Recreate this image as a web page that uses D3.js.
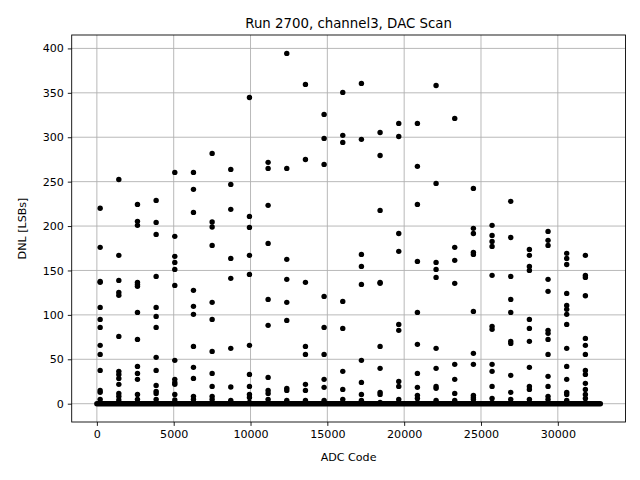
<!DOCTYPE html>
<html>
<head>
<meta charset="utf-8">
<script src="https://cdn.jsdelivr.net/npm/d3@7"></script>
<style>
  html, body { margin: 0; padding: 0; background: #fff; }
  svg { display: block; font-family: "DejaVu Sans", sans-serif; }
</style>
</head>
<body>
<svg id="chart" width="640" height="480"></svg>
<script>
// ---- data ----
const titleText = "Run 2700, channel3, DAC Scan";
const xLabel = "ADC Code";
const yLabel = "DNL [LSBs]";
const xTicks = [0, 5000, 10000, 15000, 20000, 25000, 30000];
const yTicks = [0, 50, 100, 150, 200, 250, 300, 350, 400];
// ADC codes where the scan shows DNL spikes
const adcCodes = [214, 1429, 2643, 3858, 5072, 6287, 7502, 8716, 9931, 11145, 12360, 13575, 14789,
  16004, 17218, 18433, 19648, 20862, 22077, 23291, 24506, 25721, 26935, 28150, 29364, 30579, 31794];
// DNL values at each of those codes
const dnlValues = [
  [220, 176, 137.7, 136.6, 108.4, 94.9, 85.9, 65.7, 55.5, 37.5, 15, 12.8, 4.9, 1.5],
  [252.5, 167, 138.8, 125.3, 122, 75.8, 36.4, 33, 28.5, 21.8, 11.6, 8.3, 4.1, 1.5],
  [224.4, 205.3, 200.8, 136.6, 134.3, 132.1, 102.8, 72.4, 42, 34.1, 27.4, 10.5, 4.9, 1.5],
  [228.9, 204.1, 190.6, 143.3, 108.4, 98.3, 85.9, 52.2, 37.5, 20.6, 13.9, 11.6, 4.9, 1.5],
  [260.4, 188.4, 165.9, 159.1, 151.2, 133.2, 48.8, 27.4, 24, 21.8, 10.5, 4.1, 1.5],
  [260.4, 241.3, 215.4, 127.6, 109.6, 100.6, 64.5, 40.9, 28.5, 8.3, 4.9, 1.5],
  [281.8, 204.5, 198.9, 178.2, 114.1, 94.9, 58.9, 34.1, 19.5, 8.3, 4.9, 1.5],
  [263.8, 246.9, 218.8, 163.6, 141.1, 62.3, 18.8, 3.8, 1.5],
  [344.8, 210.9, 198.5, 167, 145.6, 65.7, 33, 19.5, 10.5, 7.1, 1.5],
  [271.7, 264.9, 223.3, 180.5, 117.4, 88.2, 29.6, 15, 11.6, 4.9, 1.5],
  [394.4, 264.9, 162.5, 140, 114.1, 93.8, 17.3, 15, 3.8, 1.5],
  [359.5, 275, 136.6, 64.5, 55.5, 21.8, 15, 3.8, 1.5],
  [325.7, 298.7, 269.4, 120.8, 85.9, 55.5, 27.4, 18.4, 3.8, 1.5],
  [350.5, 302.1, 294.2, 115.2, 84.8, 36.4, 16.1, 4.9, 1.5],
  [360.6, 297.6, 168.1, 154.6, 134.3, 48.8, 24, 10.5, 3.8, 1.5],
  [305.4, 279.5, 217.6, 136.6, 135.5, 64.5, 39.8, 12.8, 10.5, 1.5],
  [315.6, 300.9, 191.7, 171.5, 89.3, 82.6, 25.1, 19.5, 4.9, 1.5],
  [315.6, 267.2, 224.4, 160.2, 102.8, 66.8, 34.1, 18.4, 9.4, 6, 1.5],
  [358.3, 248, 159.1, 151.2, 142.2, 62.3, 39.8, 19.5, 17.3, 3.8, 1.5],
  [321.2, 176, 161.4, 135.5, 44.3, 27.4, 11.6, 3.8, 1.5],
  [242.4, 197.4, 191.7, 170.4, 168.1, 103.9, 56.7, 44.3, 9.4, 7.1, 4.9, 1.5],
  [200.8, 189.5, 182.7, 177.1, 144.5, 87.1, 83.7, 44.3, 36.4, 19.5, 6, 1.5],
  [227.8, 187.2, 143.3, 117.4, 102.8, 70.2, 67.9, 31.9, 12.8, 4.9, 1.5],
  [173.7, 167, 154.6, 150.1, 94.9, 84.8, 70.2, 40.9, 19.5, 16.1, 4.9, 1.5],
  [194, 183.9, 178.2, 140, 126.5, 82.6, 79.2, 72.4, 55.5, 30.8, 19.5, 8.3, 4.9, 1.5],
  [169.2, 163.6, 156.8, 124.2, 110.7, 106.2, 100.6, 89.3, 62.3, 42, 27.4, 12.8, 10.5, 3.8, 1.5],
  [167, 144.5, 142.2, 121.6, 73.5, 65.7, 55.5, 37.5, 33, 22.9, 16.1, 10.5, 6, 1.5]
];
// all remaining codes sit at DNL ~ 0 (dense band)
const zeroBandCodes = [0, 32767];
const zeroBandDnl = [0, 0];

// ---- layout ----
const svg = d3.select("#chart");
const W = 640, H = 480;
const m = { left: 71.7, right: 625.5, top: 35, bottom: 422 };
const fs = 11.1;

const x = d3.scaleLinear().domain([-1638, 34405]).range([m.left, m.right]);
const y = d3.scaleLinear().domain([-20.6, 415.1]).range([m.bottom, m.top]);

// grid
const grid = svg.append("g");
grid.selectAll("line.gx").data(xTicks).enter().append("line")
  .attr("x1", d => x(d)).attr("x2", d => x(d))
  .attr("y1", m.top).attr("y2", m.bottom)
  .attr("stroke", "#b0b0b0").attr("stroke-width", 0.89);
grid.selectAll("line.gy").data(yTicks).enter().append("line")
  .attr("x1", m.left).attr("x2", m.right)
  .attr("y1", d => y(d)).attr("y2", d => y(d))
  .attr("stroke", "#b0b0b0").attr("stroke-width", 0.89);

// clip
svg.append("clipPath").attr("id", "clip").append("rect")
  .attr("x", m.left).attr("y", m.top).attr("width", m.right - m.left).attr("height", m.bottom - m.top);

const plot = svg.append("g").attr("clip-path", "url(#clip)");

// zero band
const bandPts = zeroBandCodes.map((c, i) => [c, zeroBandDnl[i]]);
plot.append("path")
  .attr("d", d3.line().x(d => x(d[0])).y(d => y(d[1]))(bandPts))
  .attr("stroke", "#000").attr("stroke-width", 5.4).attr("stroke-linecap", "round").attr("fill", "none");

// points
const pts = [];
adcCodes.forEach((c, i) => dnlValues[i].forEach(v => pts.push([c, v])));
plot.selectAll("circle").data(pts).enter().append("circle")
  .attr("cx", d => x(d[0])).attr("cy", d => y(d[1])).attr("r", 2.7).attr("fill", "#000");

// axes
const xAxis = svg.append("g").attr("transform", `translate(0,${m.bottom})`)
  .call(d3.axisBottom(x).tickValues(xTicks).tickFormat(d3.format("d")).tickSize(3.9).tickPadding(3.9));
const yAxis = svg.append("g").attr("transform", `translate(${m.left},0)`)
  .call(d3.axisLeft(y).tickValues(yTicks).tickFormat(d3.format("d")).tickSize(3.9).tickPadding(3.9));
[xAxis, yAxis].forEach(a => {
  a.select(".domain").remove();
  a.selectAll(".tick line").attr("stroke", "#000").attr("stroke-width", 0.89);
  a.selectAll(".tick text").attr("fill", "#000").style("font-size", fs + "px").style("font-family", "DejaVu Sans");
});

// spines
svg.append("rect").attr("x", m.left).attr("y", m.top)
  .attr("width", m.right - m.left).attr("height", m.bottom - m.top)
  .attr("fill", "none").attr("stroke", "#000").attr("stroke-width", 0.89);

// labels
svg.append("text").attr("x", (m.left + m.right) / 2).attr("y", 28)
  .attr("text-anchor", "middle").style("font-size", "13.33px").text(titleText);
svg.append("text").attr("x", (m.left + m.right) / 2).attr("y", 461)
  .attr("text-anchor", "middle").style("font-size", fs + "px").text(xLabel);
svg.append("text").attr("transform", `translate(26,${(m.top + m.bottom) / 2}) rotate(-90)`)
  .attr("text-anchor", "middle").style("font-size", fs + "px").text(yLabel);
</script>
</body>
</html>
